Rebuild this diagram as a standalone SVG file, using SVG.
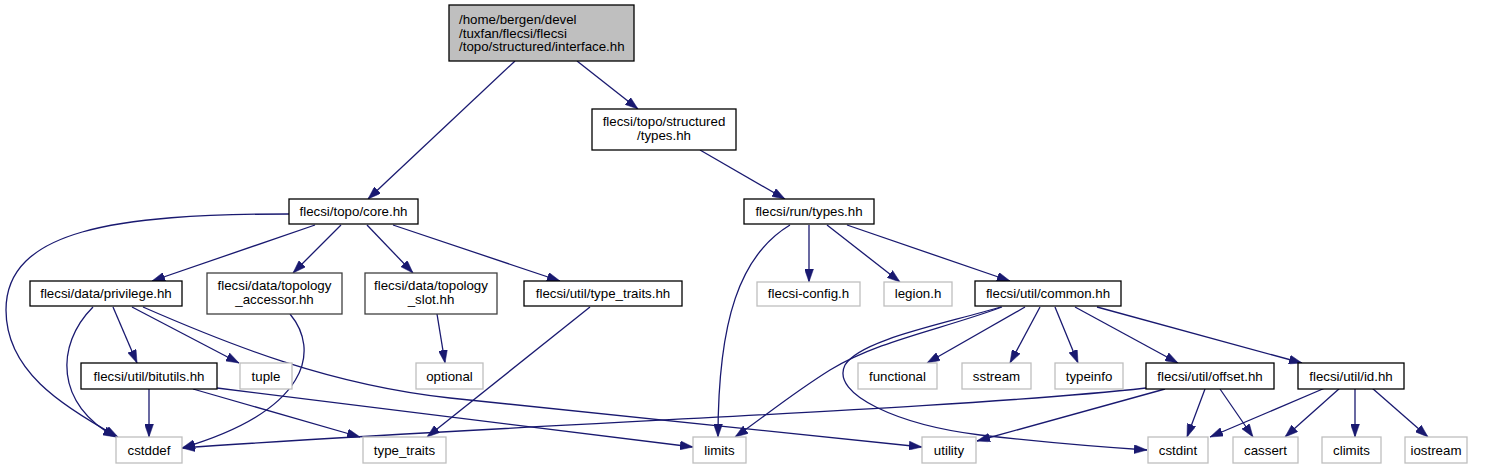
<svg xmlns="http://www.w3.org/2000/svg" width="1488" height="469" viewBox="0 0 1488 469">
<style>
  text { font-family: "Liberation Sans", Arial, Helvetica, sans-serif; font-size: 13.3px; fill: #000; }
  .c { text-anchor: middle; }
  .l { text-anchor: start; }
  rect { stroke-width: 1.3; }
  .doc { fill: #fff; stroke: #000; }
  .dark { fill: #fff; stroke: #404040; }
  .und { fill: #fff; stroke: #bfbfbf; }
  .root { fill: #bfbfbf; stroke: #000; }
  .e { fill: none; stroke: #191970; stroke-width: 1.3; marker-end: url(#ah); }
</style>
<defs>
  <marker id="ah" markerUnits="userSpaceOnUse" viewBox="0 0 13 9" markerWidth="13" markerHeight="9" refX="13" refY="4.5" orient="auto">
    <path d="M0,0 L13,4.5 L0,9 z" fill="#191970" stroke="#191970" stroke-width="0.5"/>
  </marker>
</defs>
<rect width="1488" height="469" fill="#fff"/>

<g id="edges">
  <path class="e" d="M515,61 L368,199"/>
  <path class="e" d="M577,61 L638,109"/>
  <path class="e" d="M700,150 L785,199"/>
  <path class="e" d="M289,214 C115,214 6,230 6,310 C6,370 60,405 118,437"/>
  <path class="e" d="M93,307 C55,345 55,405 116,437"/>
  <path class="e" d="M315,225 L152,281"/>
  <path class="e" d="M341,225 L293,273"/>
  <path class="e" d="M367,225 L413,273"/>
  <path class="e" d="M393,225 L560,281"/>
  <path class="e" d="M113,307 L137,363"/>
  <path class="e" d="M132,307 L239,363"/>
  <path class="e" d="M143,307 C230,345 330,385 450,398 L922,447"/>
  <path class="e" d="M290,314 C320,350 310,410 182,448"/>
  <path class="e" d="M437,314 L445,363"/>
  <path class="e" d="M590,307 L427,437"/>
  <path class="e" d="M149,389 L149,437"/>
  <path class="e" d="M193,389 L360,437"/>
  <path class="e" d="M217,388 L693,447"/>
  <path class="e" d="M790,225 C740,255 718,320 718,437"/>
  <path class="e" d="M809,225 L809,282"/>
  <path class="e" d="M827,225 L900,282"/>
  <path class="e" d="M847,225 L1010,281"/>
  <path class="e" d="M1002,307 C940,330 880,340 830,370 C790,395 760,420 735,437"/>
  <path class="e" d="M1001,307 C940,325 860,340 845,365 C830,395 900,425 980,435 C1050,443 1100,447 1147,450"/>
  <path class="e" d="M1025,307 L927,363"/>
  <path class="e" d="M1040,307 L1010,363"/>
  <path class="e" d="M1055,307 L1078,363"/>
  <path class="e" d="M1075,307 L1178,363"/>
  <path class="e" d="M1097,307 L1302,363"/>
  <path class="e" d="M1146,388 C950,410 500,425 182,448"/>
  <path class="e" d="M1165,389 L977,441"/>
  <path class="e" d="M1205,389 L1187,437"/>
  <path class="e" d="M1220,389 L1253,437"/>
  <path class="e" d="M1325,388 L1210,437"/>
  <path class="e" d="M1340,388 L1285,437"/>
  <path class="e" d="M1355,388 L1355,437"/>
  <path class="e" d="M1372,388 L1428,437"/>
</g>

<g id="n_root"><rect class="root" x="449" y="5" width="185" height="56"/>
  <text class="l" x="459" y="24">/home/bergen/devel</text>
  <text class="l" x="459" y="37.5">/tuxfan/flecsi/flecsi</text>
  <text class="l" x="459" y="51">/topo/structured/interface.hh</text></g>
<g id="n_stypes"><rect class="doc" x="592" y="109" width="144" height="41"/>
  <text class="c" x="664" y="126">flecsi/topo/structured</text>
  <text class="c" x="664" y="140">/types.hh</text></g>
<g id="n_core"><rect class="doc" x="289" y="199" width="129" height="25"/>
  <text class="c" x="353.5" y="216">flecsi/topo/core.hh</text></g>
<g id="n_runtypes"><rect class="doc" x="744" y="199" width="130" height="25"/>
  <text class="c" x="809" y="216">flecsi/run/types.hh</text></g>
<g id="n_priv"><rect class="doc" x="30" y="281" width="152" height="25"/>
  <text class="c" x="106" y="298">flecsi/data/privilege.hh</text></g>
<g id="n_acc"><rect class="dark" x="207" y="273" width="135" height="41"/>
  <text class="c" x="274.5" y="290">flecsi/data/topology</text>
  <text class="c" x="274.5" y="304">_accessor.hh</text></g>
<g id="n_slot"><rect class="dark" x="365" y="273" width="132" height="41"/>
  <text class="c" x="431" y="290">flecsi/data/topology</text>
  <text class="c" x="431" y="304">_slot.hh</text></g>
<g id="n_utt"><rect class="doc" x="524" y="281" width="158" height="25"/>
  <text class="c" x="603" y="298">flecsi/util/type_traits.hh</text></g>
<g id="n_fconfig"><rect class="und" x="757" y="282" width="103" height="24"/>
  <text class="c" x="808.5" y="298">flecsi-config.h</text></g>
<g id="n_legion"><rect class="und" x="884" y="282" width="68" height="24"/>
  <text class="c" x="918" y="298">legion.h</text></g>
<g id="n_common"><rect class="doc" x="975" y="281" width="146" height="25"/>
  <text class="c" x="1048" y="298">flecsi/util/common.hh</text></g>
<g id="n_bitutils"><rect class="doc" x="81" y="363" width="136" height="26"/>
  <text class="c" x="149" y="380.5">flecsi/util/bitutils.hh</text></g>
<g id="n_tuple"><rect class="und" x="240" y="363" width="52" height="26"/>
  <text class="c" x="266" y="380.5">tuple</text></g>
<g id="n_optional"><rect class="und" x="416" y="363" width="67" height="26"/>
  <text class="c" x="449.5" y="380.5">optional</text></g>
<g id="n_functional"><rect class="und" x="858" y="363" width="79" height="26"/>
  <text class="c" x="897.5" y="380.5">functional</text></g>
<g id="n_sstream"><rect class="und" x="962" y="363" width="69" height="26"/>
  <text class="c" x="996.5" y="380.5">sstream</text></g>
<g id="n_typeinfo"><rect class="und" x="1055" y="363" width="68" height="26"/>
  <text class="c" x="1089" y="380.5">typeinfo</text></g>
<g id="n_offset"><rect class="doc" x="1146" y="363" width="128" height="26"/>
  <text class="c" x="1210" y="380.5">flecsi/util/offset.hh</text></g>
<g id="n_id"><rect class="doc" x="1298" y="363" width="106" height="26"/>
  <text class="c" x="1351" y="380.5">flecsi/util/id.hh</text></g>
<g id="n_cstddef"><rect class="und" x="116" y="437" width="66" height="26"/>
  <text class="c" x="149" y="454.5">cstddef</text></g>
<g id="n_type_traits"><rect class="und" x="363" y="437" width="83" height="26"/>
  <text class="c" x="404.5" y="454.5">type_traits</text></g>
<g id="n_limits"><rect class="und" x="693" y="437" width="53" height="26"/>
  <text class="c" x="719.5" y="454.5">limits</text></g>
<g id="n_utility"><rect class="und" x="922" y="437" width="54" height="26"/>
  <text class="c" x="949" y="454.5">utility</text></g>
<g id="n_cstdint"><rect class="und" x="1148" y="437" width="60" height="26"/>
  <text class="c" x="1178" y="454.5">cstdint</text></g>
<g id="n_cassert"><rect class="und" x="1233" y="437" width="65" height="26"/>
  <text class="c" x="1265.5" y="454.5">cassert</text></g>
<g id="n_climits"><rect class="und" x="1322" y="437" width="59" height="26"/>
  <text class="c" x="1351.5" y="454.5">climits</text></g>
<g id="n_iostream"><rect class="und" x="1405" y="437" width="62" height="26"/>
  <text class="c" x="1436" y="454.5">iostream</text></g>
</svg>
